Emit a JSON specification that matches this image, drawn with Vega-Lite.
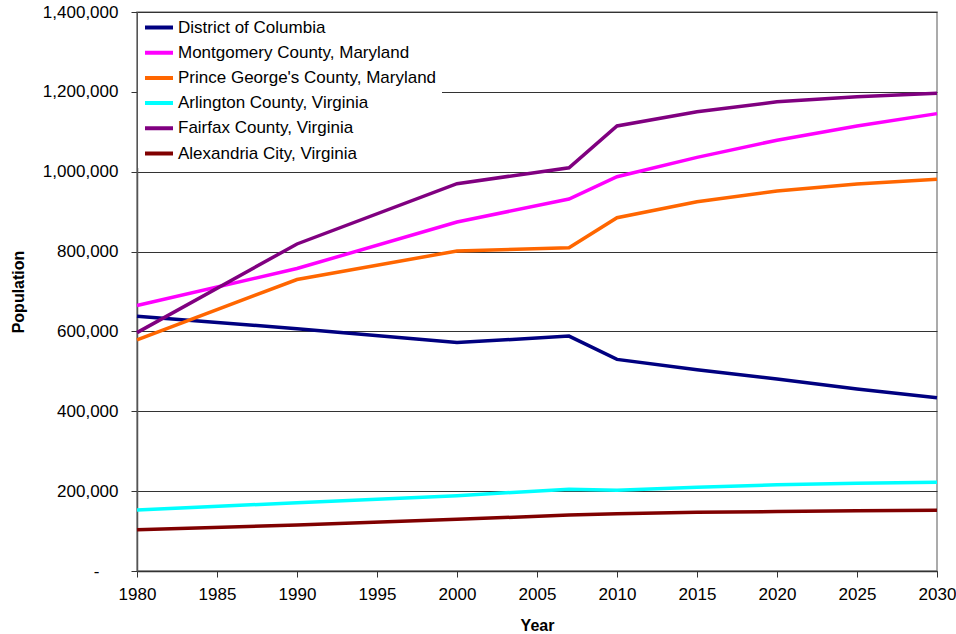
{
  "$schema": "https://vega.github.io/schema/vega-lite/v6.json",
  "width": 800,
  "height": 559,
  "autosize": "none",
  "padding": {"left": 137, "top": 12, "right": 19, "bottom": 63},
  "background": "white",
  "config": {
    "font": "Liberation Sans",
    "view": {"stroke": "#909090", "strokeWidth": 1.5}
  },
  "data": {
    "values": [
      {"area": "District of Columbia", "year": 1980, "pop": 638000},
      {"area": "District of Columbia", "year": 1990, "pop": 606900},
      {"area": "District of Columbia", "year": 2000, "pop": 572000},
      {"area": "District of Columbia", "year": 2007, "pop": 588300},
      {"area": "District of Columbia", "year": 2010, "pop": 530000},
      {"area": "District of Columbia", "year": 2015, "pop": 504000},
      {"area": "District of Columbia", "year": 2020, "pop": 481000},
      {"area": "District of Columbia", "year": 2025, "pop": 456000},
      {"area": "District of Columbia", "year": 2030, "pop": 434000},
      {"area": "Montgomery County, Maryland", "year": 1980, "pop": 665000},
      {"area": "Montgomery County, Maryland", "year": 1990, "pop": 757500},
      {"area": "Montgomery County, Maryland", "year": 2000, "pop": 874000},
      {"area": "Montgomery County, Maryland", "year": 2007, "pop": 931500},
      {"area": "Montgomery County, Maryland", "year": 2010, "pop": 987500},
      {"area": "Montgomery County, Maryland", "year": 2015, "pop": 1036000},
      {"area": "Montgomery County, Maryland", "year": 2020, "pop": 1079000},
      {"area": "Montgomery County, Maryland", "year": 2025, "pop": 1114500},
      {"area": "Montgomery County, Maryland", "year": 2030, "pop": 1145500},
      {"area": "Prince George's County, Maryland", "year": 1980, "pop": 579000},
      {"area": "Prince George's County, Maryland", "year": 1990, "pop": 730000},
      {"area": "Prince George's County, Maryland", "year": 2000, "pop": 801500},
      {"area": "Prince George's County, Maryland", "year": 2007, "pop": 809500},
      {"area": "Prince George's County, Maryland", "year": 2010, "pop": 884800},
      {"area": "Prince George's County, Maryland", "year": 2015, "pop": 925000},
      {"area": "Prince George's County, Maryland", "year": 2020, "pop": 951500},
      {"area": "Prince George's County, Maryland", "year": 2025, "pop": 969000},
      {"area": "Prince George's County, Maryland", "year": 2030, "pop": 981000},
      {"area": "Arlington County, Virginia", "year": 1980, "pop": 152700},
      {"area": "Arlington County, Virginia", "year": 1990, "pop": 171000},
      {"area": "Arlington County, Virginia", "year": 2000, "pop": 188500},
      {"area": "Arlington County, Virginia", "year": 2007, "pop": 205000},
      {"area": "Arlington County, Virginia", "year": 2010, "pop": 202500},
      {"area": "Arlington County, Virginia", "year": 2015, "pop": 210000},
      {"area": "Arlington County, Virginia", "year": 2020, "pop": 216000},
      {"area": "Arlington County, Virginia", "year": 2025, "pop": 219500},
      {"area": "Arlington County, Virginia", "year": 2030, "pop": 222000},
      {"area": "Fairfax County, Virginia", "year": 1980, "pop": 597000},
      {"area": "Fairfax County, Virginia", "year": 1990, "pop": 819000},
      {"area": "Fairfax County, Virginia", "year": 2000, "pop": 970000},
      {"area": "Fairfax County, Virginia", "year": 2007, "pop": 1010000},
      {"area": "Fairfax County, Virginia", "year": 2010, "pop": 1114500},
      {"area": "Fairfax County, Virginia", "year": 2015, "pop": 1150000},
      {"area": "Fairfax County, Virginia", "year": 2020, "pop": 1175000},
      {"area": "Fairfax County, Virginia", "year": 2025, "pop": 1188000},
      {"area": "Fairfax County, Virginia", "year": 2030, "pop": 1196500},
      {"area": "Alexandria City, Virginia", "year": 1980, "pop": 103000},
      {"area": "Alexandria City, Virginia", "year": 1990, "pop": 115000},
      {"area": "Alexandria City, Virginia", "year": 2000, "pop": 129500},
      {"area": "Alexandria City, Virginia", "year": 2007, "pop": 140000},
      {"area": "Alexandria City, Virginia", "year": 2010, "pop": 143500},
      {"area": "Alexandria City, Virginia", "year": 2015, "pop": 147000},
      {"area": "Alexandria City, Virginia", "year": 2020, "pop": 149000},
      {"area": "Alexandria City, Virginia", "year": 2025, "pop": 151000},
      {"area": "Alexandria City, Virginia", "year": 2030, "pop": 152000}
    ]
  },
  "mark": {"type": "line", "strokeWidth": 3.5, "strokeJoin": "miter", "clip": false},
  "encoding": {
    "x": {
      "field": "year",
      "type": "quantitative",
      "title": "Year",
      "scale": {"domain": [1980, 2030], "nice": false, "zero": false},
      "axis": {
        "values": [1980, 1985, 1990, 1995, 2000, 2005, 2010, 2015, 2020, 2025, 2030],
        "format": "d",
        "grid": false,
        "labelFlush": false,
        "labelOverlap": false,
        "domainColor": "#333333",
        "domainWidth": 1.5,
        "tickColor": "#333333",
        "tickSize": 6,
        "labelFontSize": 17,
        "labelColor": "black",
        "labelPadding": 9,
        "titleFontSize": 16,
        "titleFontWeight": "bold",
        "titleColor": "black",
        "titlePadding": 15
      }
    },
    "y": {
      "field": "pop",
      "type": "quantitative",
      "title": "Population",
      "scale": {"domain": [0, 1400000], "nice": false},
      "axis": {
        "values": [0, 200000, 400000, 600000, 800000, 1000000, 1200000, 1400000],
        "labelExpr": "datum.value == 0 ? '-' : format(datum.value, ',')",
        "grid": true,
        "gridColor": "#333333",
        "gridWidth": 1,
        "labelOverlap": false,
        "domainColor": "#555555",
        "domainWidth": 1.5,
        "tickColor": "#333333",
        "tickSize": 6,
        "labelFontSize": 17,
        "labelColor": "black",
        "labelPadding": {"condition": {"test": "datum.value == 0", "value": 32}, "value": 13},
        "titleFontSize": 16,
        "titleFontWeight": "bold",
        "titleColor": "black",
        "titlePadding": 16
      }
    },
    "color": {
      "field": "area",
      "type": "nominal",
      "sort": ["District of Columbia", "Montgomery County, Maryland", "Prince George's County, Maryland", "Arlington County, Virginia", "Fairfax County, Virginia", "Alexandria City, Virginia"],
      "scale": {
        "domain": ["District of Columbia", "Montgomery County, Maryland", "Prince George's County, Maryland", "Arlington County, Virginia", "Fairfax County, Virginia", "Alexandria City, Virginia"],
        "range": ["#000080", "#FF00FF", "#FF6600", "#00FFFF", "#800080", "#800000"]
      },
      "legend": {
        "title": null,
        "orient": "none",
        "legendX": 1,
        "legendY": 1,
        "fillColor": "white",
        "padding": 5,
        "symbolType": "stroke",
        "symbolSize": 784,
        "symbolStrokeWidth": 4,
        "symbolOffset": 0,
        "clipHeight": 19,
        "labelFontSize": 17,
        "labelColor": "black",
        "labelOffset": 3,
        "rowPadding": 6.2,
        "labelLimit": 400
      }
    }
  }
}
